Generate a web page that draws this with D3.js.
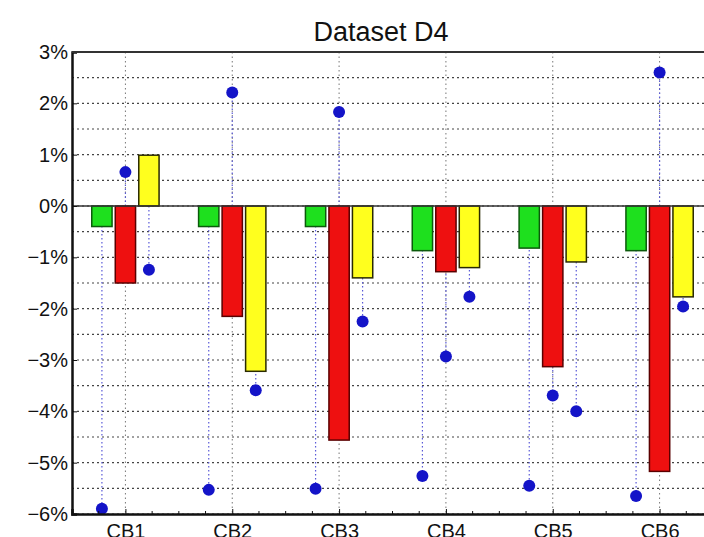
<!DOCTYPE html>
<html lang="en">
<head>
<meta charset="UTF-8" />
<title>Dataset D4</title>
<script src="https://cdn.jsdelivr.net/npm/d3@7"></script>
<style>
  body { margin: 0; background: #fff; }
  svg { display: block; }
  text { font-family: "Liberation Sans", Arial, sans-serif; fill: #111; }
</style>
</head>
<body>
<div id="chart"></div>
<script>
// categories and series (values in %)
var categories = ["CB1", "CB2", "CB3", "CB4", "CB5", "CB6"];
var greenVals  = [-0.4, -0.4, -0.4, -0.87, -0.82, -0.87];
var redVals    = [-1.5, -2.15, -4.56, -1.28, -3.13, -5.17];
var yellowVals = [0.99, -3.22, -1.4, -1.2, -1.09, -1.77];
// blue markers, one per bar
var greenDots  = [-5.9, -5.53, -5.51, -5.26, -5.45, -5.65];
var redDots    = [0.66, 2.21, 1.83, -2.93, -3.69, 2.6];
var yellowDots = [-1.24, -3.59, -2.25, -1.77, -4.0, -1.96];
var yTicks = [3, 2, 1, 0, -1, -2, -3, -4, -5, -6];

var w = 704, h = 537;
// note: "top" is reserved on window, so use plot* names
var plotL = 72, plotR = 713, plotT = 52, plotB = 514;

var svg = d3.select("#chart").append("svg")
  .attr("width", w)
  .attr("height", h);

var xScale = d3.scaleLinear().domain([0.5, 6.5]).range([plotL, plotR]);
var yScale = d3.scaleLinear().domain([-6, 3]).range([plotB, plotT]);

var series = [
  { vals: greenVals, dots: greenDots, off: -0.22, fill: "#1ee01e", stroke: "#0b5a0b" },
  { vals: redVals, dots: redDots, off: 0, fill: "#ee1010", stroke: "#5a0000" },
  { vals: yellowVals, dots: yellowDots, off: 0.22, fill: "#ffff1e", stroke: "#2a2a00" }
];
var barW = 0.19;

// grid - every 0.5%
var minor = d3.range(-6, 3.01, 0.5);
svg.append("g").selectAll("line")
  .data(minor)
  .enter().append("line")
  .attr("x1", plotL).attr("x2", plotR)
  .attr("y1", function(d) { return yScale(d); })
  .attr("y2", function(d) { return yScale(d); })
  .attr("stroke", "#444")
  .attr("stroke-width", 1.2)
  .attr("stroke-dasharray", "2,3");

// vertical grid at categories
svg.append("g").selectAll("line")
  .data(categories)
  .enter().append("line")
  .attr("x1", function(d, i) { return xScale(i + 1); })
  .attr("x2", function(d, i) { return xScale(i + 1); })
  .attr("y1", plotT).attr("y2", plotB)
  .attr("stroke", "#777")
  .attr("stroke-width", 1)
  .attr("stroke-dasharray", "1.5,3");

// drop lines from 0 to the blue markers
series.forEach(function(s) {
  svg.append("g").selectAll("line")
    .data(s.dots)
    .enter().append("line")
    .attr("x1", function(d, i) { return xScale(i + 1 + s.off); })
    .attr("x2", function(d, i) { return xScale(i + 1 + s.off); })
    .attr("y1", yScale(0))
    .attr("y2", function(d) { return yScale(d); })
    .attr("stroke", "#5a5ad8")
    .attr("stroke-width", 1.2)
    .attr("stroke-dasharray", "1.5,2.5");
});

// bars
series.forEach(function(s) {
  svg.append("g").selectAll("rect")
    .data(s.vals)
    .enter().append("rect")
    .attr("x", function(d, i) { return xScale(i + 1 + s.off - barW / 2); })
    .attr("width", xScale(barW) - xScale(0))
    .attr("y", function(d) { return yScale(Math.max(0, d)); })
    .attr("height", function(d) { return Math.abs(yScale(d) - yScale(0)); })
    .attr("fill", s.fill)
    .attr("stroke", s.stroke)
    .attr("stroke-width", 1.5);
});

// zero line
svg.append("line")
  .attr("x1", plotL).attr("x2", plotR)
  .attr("y1", yScale(0)).attr("y2", yScale(0))
  .attr("stroke", "#333")
  .attr("stroke-width", 1.5);

// markers
series.forEach(function(s) {
  svg.append("g").selectAll("circle")
    .data(s.dots)
    .enter().append("circle")
    .attr("cx", function(d, i) { return xScale(i + 1 + s.off); })
    .attr("cy", function(d) { return yScale(d); })
    .attr("r", 6)
    .attr("fill", "#1414c8");
});

// axes (box style, ticks inside)
var yAxis = d3.axisLeft(yScale)
  .tickValues(yTicks)
  .tickSize(-5)
  .tickPadding(4)
  .tickFormat(function(d) { return (d < 0 ? "\u2212" + (-d) : d) + "%"; });
var gy = svg.append("g")
  .attr("transform", "translate(" + plotL + ",0)")
  .call(yAxis);
gy.select(".domain").attr("stroke", "#111").attr("stroke-width", 2.5);
gy.selectAll(".tick line").attr("stroke", "#111");
gy.selectAll(".tick text")
  .style("font-size", "20px")
  .style("font-family", "'Liberation Sans', Arial, sans-serif")
  .attr("fill", "#333");

var xAxis = d3.axisBottom(xScale)
  .tickValues(d3.range(1, 7))
  .tickSize(-5)
  .tickPadding(10)
  .tickFormat(function(d) { return categories[d - 1]; });
var gx = svg.append("g")
  .attr("transform", "translate(0," + plotB + ")")
  .call(xAxis);
gx.select(".domain").attr("stroke", "#111").attr("stroke-width", 2.5);
gx.selectAll(".tick line").attr("stroke", "#111");
gx.selectAll(".tick text")
  .style("font-size", "20px")
  .style("font-family", "'Liberation Sans', Arial, sans-serif")
  .attr("fill", "#333");

// minor ticks on x axis
var xMinor = d3.range(0.75, 6.5, 0.25).filter(function(d) { return d % 1 !== 0; });
svg.append("g").selectAll("line")
  .data(xMinor)
  .enter().append("line")
  .attr("x1", function(d) { return xScale(d); })
  .attr("x2", function(d) { return xScale(d); })
  .attr("y1", plotB).attr("y2", plotB - 3)
  .attr("stroke", "#111");

// top border
svg.append("line")
  .attr("x1", plotL).attr("x2", plotR)
  .attr("y1", plotT).attr("y2", plotT)
  .attr("stroke", "#333")
  .attr("stroke-width", 2);

// title
svg.append("text")
  .attr("x", 381)
  .attr("y", 41)
  .attr("text-anchor", "middle")
  .style("font-size", "27px")
  .attr("fill", "#222")
  .text("Dataset D4");
</script>
</body>
</html>
